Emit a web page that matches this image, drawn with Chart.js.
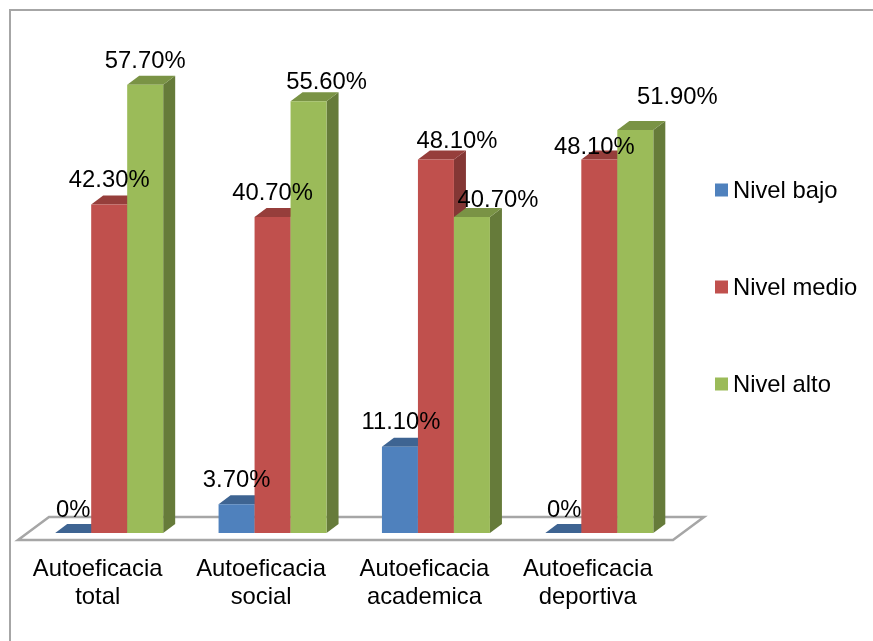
<!DOCTYPE html>
<html>
<head>
<meta charset="utf-8">
<title>Autoeficacia</title>
<script src="https://cdn.jsdelivr.net/npm/chart.js@4/dist/chart.umd.min.js"></script>
<style>
  html, body { margin: 0; padding: 0; background: #fff; }
  #wrap { position: relative; width: 873px; height: 641px; overflow: hidden; }
  #frame { position: absolute; left: 9px; top: 9px; width: 870px; height: 640px; border: 2px solid #a6a6a6; box-sizing: border-box; }
</style>
</head>
<body>
<div id="wrap">
  <div id="frame"></div>
  <canvas id="chart" width="873" height="641"></canvas>
</div>
<script>
const categories = [['Autoeficacia', 'total'], ['Autoeficacia', 'social'], ['Autoeficacia', 'academica'], ['Autoeficacia', 'deportiva']];
const seriesNames = ['Nivel bajo', 'Nivel medio', 'Nivel alto'];
const nivelBajo = [0, 3.7, 11.1, 0];
const nivelMedio = [42.3, 40.7, 48.1, 48.1];
const nivelAlto = [57.7, 55.6, 40.7, 51.9];
const valueLabels = [
  ['0%', '3.70%', '11.10%', '0%'],
  ['42.30%', '40.70%', '48.10%', '48.10%'],
  ['57.70%', '55.60%', '40.70%', '51.90%']
];

const FONT = '"Liberation Sans", Arial, sans-serif';
const FONT_SIZE = 23.8;
const DEPTH_X = 12, DEPTH_Y = 9;

const frontColors = ['#4f81bd', '#c0504d', '#9bbb59'];
const topColors = ['#3e6492', '#963e3b', '#7a9345'];
const sideColors = ['#365780', '#843735', '#667b3a'];

// nudges for labels that were moved by hand so they don't collide [series][category]
const labelNudge = [
  [[0, -23], [0, -24], [1, -24], [1, -23]],
  [[0, -24], [0, -23], [21, -18], [-5, -12]],
  [[0, -23.5], [18, -19], [26, -16], [42, -32]]
];

function poly(ctx, pts, color) {
  ctx.fillStyle = color;
  ctx.beginPath();
  pts.forEach((p, i) => i ? ctx.lineTo(p[0], p[1]) : ctx.moveTo(p[0], p[1]));
  ctx.closePath();
  ctx.fill();
}

// floor of the 3D plot, behind the bars
const floorPlugin = {
  id: 'floor',
  beforeDatasetsDraw(chart) {
    const ctx = chart.ctx;
    const y0 = chart.scales.y.getPixelForValue(0);
    const left = chart.scales.x.left, right = chart.scales.x.right;
    ctx.save();
    ctx.strokeStyle = '#a6a6a6';
    ctx.lineWidth = 2.5;
    ctx.lineJoin = 'miter';
    ctx.beginPath();
    ctx.moveTo(left - 9.5, y0 + 7);
    ctx.lineTo(left + 21.5, y0 - 16);
    ctx.lineTo(right + 23, y0 - 16);
    ctx.lineTo(right - 8, y0 + 7);
    ctx.closePath();
    ctx.stroke();
    ctx.restore();
  }
};

// draws side and top faces, and paints series left to right so the right bar covers the left one
const bars3dPlugin = {
  id: 'bars3d',
  beforeDatasetsDraw(chart) {
    const ctx = chart.ctx;
    chart.data.datasets.forEach((ds, s) => {
      const meta = chart.getDatasetMeta(s);
      meta.data.forEach(bar => {
        const l = bar.x - bar.width / 2, r = bar.x + bar.width / 2;
        poly(ctx, [[r, bar.y], [r + DEPTH_X, bar.y - DEPTH_Y], [r + DEPTH_X, bar.base - DEPTH_Y], [r, bar.base]], sideColors[s]);
        poly(ctx, [[l, bar.y], [l + DEPTH_X, bar.y - DEPTH_Y], [r + DEPTH_X, bar.y - DEPTH_Y], [r, bar.y]], topColors[s]);
      });
      meta.controller.draw();
    });
    return false;
  }
};

const labelsPlugin = {
  id: 'valueLabels',
  afterDraw(chart) {
    const ctx = chart.ctx;
    ctx.save();
    ctx.font = FONT_SIZE + 'px ' + FONT;
    ctx.fillStyle = '#000';
    ctx.textAlign = 'center';
    ctx.textBaseline = 'middle';
    chart.data.datasets.forEach((ds, s) => {
      chart.getDatasetMeta(s).data.forEach((bar, i) => {
        const n = labelNudge[s][i];
        ctx.fillText(valueLabels[s][i], bar.x + n[0], bar.y + n[1]);
      });
    });
    // legend column on the right
    const rows = [190, 287, 384];
    ctx.textAlign = 'left';
    chart.data.datasets.forEach((ds, s) => {
      ctx.fillStyle = frontColors[s];
      ctx.fillRect(715, rows[s] - 6.5, 13, 13);
      ctx.fillStyle = '#000';
      ctx.fillText(ds.label, 733, rows[s] + 1);
    });
    ctx.restore();
  }
};

new Chart(document.getElementById('chart'), {
  type: 'bar',
  data: {
    labels: categories,
    datasets: [
      { label: seriesNames[0], data: nivelBajo, backgroundColor: frontColors[0] },
      { label: seriesNames[1], data: nivelMedio, backgroundColor: frontColors[1] },
      { label: seriesNames[2], data: nivelAlto, backgroundColor: frontColors[2] }
    ]
  },
  plugins: [floorPlugin, bars3dPlugin, labelsPlugin],
  options: {
    responsive: false,
    animation: false,
    layout: { padding: { left: 27.5, right: 192, top: 67, bottom: 0 } },
    datasets: { bar: { categoryPercentage: 0.661, barPercentage: 1 } },
    plugins: { legend: { display: false }, tooltip: { enabled: false } },
    scales: {
      x: {
        grid: { display: false },
        border: { display: false },
        afterFit(scale) { scale.height = 108; },
        ticks: {
          color: '#000',
          font: { family: FONT, size: FONT_SIZE, lineHeight: 1.17 },
          padding: 15,
          maxRotation: 0,
          labelOffset: -11.5
        }
      },
      y: {
        display: false,
        min: 0,
        max: 60
      }
    }
  }
});
</script>
</body>
</html>
